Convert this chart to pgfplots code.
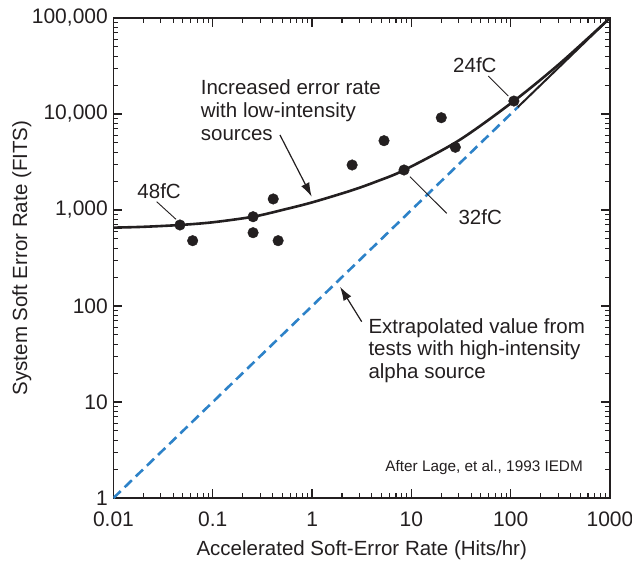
\documentclass[border=0pt]{standalone}
\usepackage{fontspec}
\setmainfont{Liberation Sans}
\usepackage{pgfplots}
\pgfplotsset{compat=1.18}
\usetikzlibrary{arrows.meta}
\definecolor{dashblue}{RGB}{45,130,200}
\definecolor{txt}{RGB}{35,31,32}
\begin{document}
\begin{tikzpicture}
\begin{axis}[name=ax,
  width=496.5pt, height=480pt, scale only axis,
  xmode=log, ymode=log,
  xmin=0.01, xmax=1000, ymin=1, ymax=100000,
  xtick={0.01,0.1,1,10,100,1000},
  xticklabels={0.01,0.1,1,10,100,1000},
  ytick={1,10,100,1000,10000,100000},
  yticklabels={1,10,100,{1,000},{10,000},{100,000}},
  tick align=inside,
  major tick length=9pt, minor tick length=5pt,
  axis line style={line width=1.3pt, txt},
  tick style={txt, line width=1.1pt},
  tick label style={font=\fontsize{21}{25}\selectfont, text=txt},
  yticklabel style={inner sep=0pt, anchor=east, xshift=-5.5pt},
  xticklabel style={inner sep=0pt, anchor=north, yshift=-14pt},
  xlabel={Accelerated Soft-Error Rate (Hits/hr)},
  ylabel={System Soft Error Rate (FITS)},
  label style={font=\fontsize{20.5}{24}\selectfont, text=txt, inner sep=0pt},
  xlabel style={at={(axis description cs:0.5,-0.1208)}, anchor=base},
  ylabel style={at={(axis description cs:-0.1742,0.5)}, anchor=base, rotate=0},
]
% axis ticks on all four sides (decades span 0.2 of each axis)
\pgfplotsinvokeforeach{0.2,0.4,0.6,0.8}{
  \draw[txt, line width=1.2pt] (rel axis cs:#1,0) -- (rel axis cs:#1,0.01875);
  \draw[txt, line width=1.2pt] (rel axis cs:#1,1) -- (rel axis cs:#1,0.98125);
  \draw[txt, line width=1.2pt] (rel axis cs:0,#1) -- (rel axis cs:0.01813,#1);
  \draw[txt, line width=1.2pt] (rel axis cs:1,#1) -- (rel axis cs:0.98187,#1);
}
\pgfplotsinvokeforeach{0.060206,0.095424,0.120412,0.139794,0.155630,0.169020,0.180618,0.190849,
0.260206,0.295424,0.320412,0.339794,0.355630,0.369020,0.380618,0.390849,
0.460206,0.495424,0.520412,0.539794,0.555630,0.569020,0.580618,0.590849,
0.660206,0.695424,0.720412,0.739794,0.755630,0.769020,0.780618,0.790849,
0.860206,0.895424,0.920412,0.939794,0.955630,0.969020,0.980618,0.990849}{
  \draw[txt, line width=1.1pt] (rel axis cs:#1,0) -- (rel axis cs:#1,0.01042);
  \draw[txt, line width=1.1pt] (rel axis cs:#1,1) -- (rel axis cs:#1,0.98958);
  \draw[txt, line width=1.1pt] (rel axis cs:0,#1) -- (rel axis cs:0.01007,#1);
  \draw[txt, line width=1.1pt] (rel axis cs:1,#1) -- (rel axis cs:0.98993,#1);
}
% extrapolated line (dashed blue)
\addplot[dashblue, line width=2.6pt, dash pattern=on 10pt off 5.5pt] coordinates {(0.01,1) (120,12000)};
% continuation in black
\addplot[txt, line width=2pt] coordinates {(118,11800) (1000,100000)};
% low-intensity curve
\addplot[txt, line width=2.6pt, smooth] coordinates {
(0.01,655) (0.02,668) (0.0467,698) (0.1,745) (0.2545,851) (0.5,1000) (1,1200)
(2.5,1600) (4.5,1990) (8.43,2600) (30,5300) (107.7,13650) (316,33900) (1000,100000)};
% measured points
\addplot[only marks, mark=*, mark size=5.3pt, txt] coordinates {
(0.0467,698) (0.0627,479) (0.2545,851) (0.2545,580) (0.406,1303) (0.455,479)
(2.53,2943) (5.30,5272) (20.0,9146) (8.43,2610) (27.7,4500) (107.7,13650)};
% annotations
\begin{scope}[font=\fontsize{20.5}{24}\selectfont, text=txt]
\node[anchor=base west, inner sep=0pt] at (rel axis cs:0.1756,0.8396) {Increased error rate};
\node[anchor=base west, inner sep=0pt] at (rel axis cs:0.1756,0.7917) {with low-intensity};
\node[anchor=base west, inner sep=0pt] at (rel axis cs:0.1756,0.7438) {sources};
\node[anchor=base west, inner sep=0pt] at (rel axis cs:0.5132,0.34375) {Extrapolated value from};
\node[anchor=base west, inner sep=0pt] at (rel axis cs:0.5132,0.2969) {tests with high-intensity};
\node[anchor=base west, inner sep=0pt] at (rel axis cs:0.5132,0.25) {alpha source};
\node[anchor=base west, inner sep=0pt] at (rel axis cs:0.0479,0.6244) {48fC};
\node[anchor=base west, inner sep=0pt] at (rel axis cs:0.6838,0.8860) {24fC};
\node[anchor=base west, inner sep=0pt] at (rel axis cs:0.6945,0.56875) {32fC};
\end{scope}
\node[anchor=base east, inner sep=0pt, font=\fontsize{15.3}{18}\selectfont, text=txt] at (rel axis cs:0.9456,0.0548) {After Lage, et al., 1993 IEDM};
\draw[txt, line width=0.9pt] (rel axis cs:0.0870,0.6173) -- (rel axis cs:0.1259,0.5806);
\draw[txt, line width=0.9pt] (rel axis cs:0.7549,0.8792) -- (rel axis cs:0.7952,0.8375);
\draw[txt, line width=0.9pt] (rel axis cs:0.5972,0.6694) -- (rel axis cs:0.6711,0.5931);
\draw[txt, line width=1.2pt, -{Latex[length=14pt,width=9pt]}] (rel axis cs:0.3353,0.7563) -- (rel axis cs:0.3992,0.6277);
\draw[txt, line width=1.2pt, -{Latex[length=14pt,width=9pt]}] (rel axis cs:0.4999,0.3673) -- (rel axis cs:0.4562,0.4402);
\end{axis}
\pgfresetboundingbox
\path ([shift={(-113.5pt,-65pt)}]ax.south west) rectangle ([shift={(22pt,18pt)}]ax.north east);
\end{tikzpicture}
\end{document}
